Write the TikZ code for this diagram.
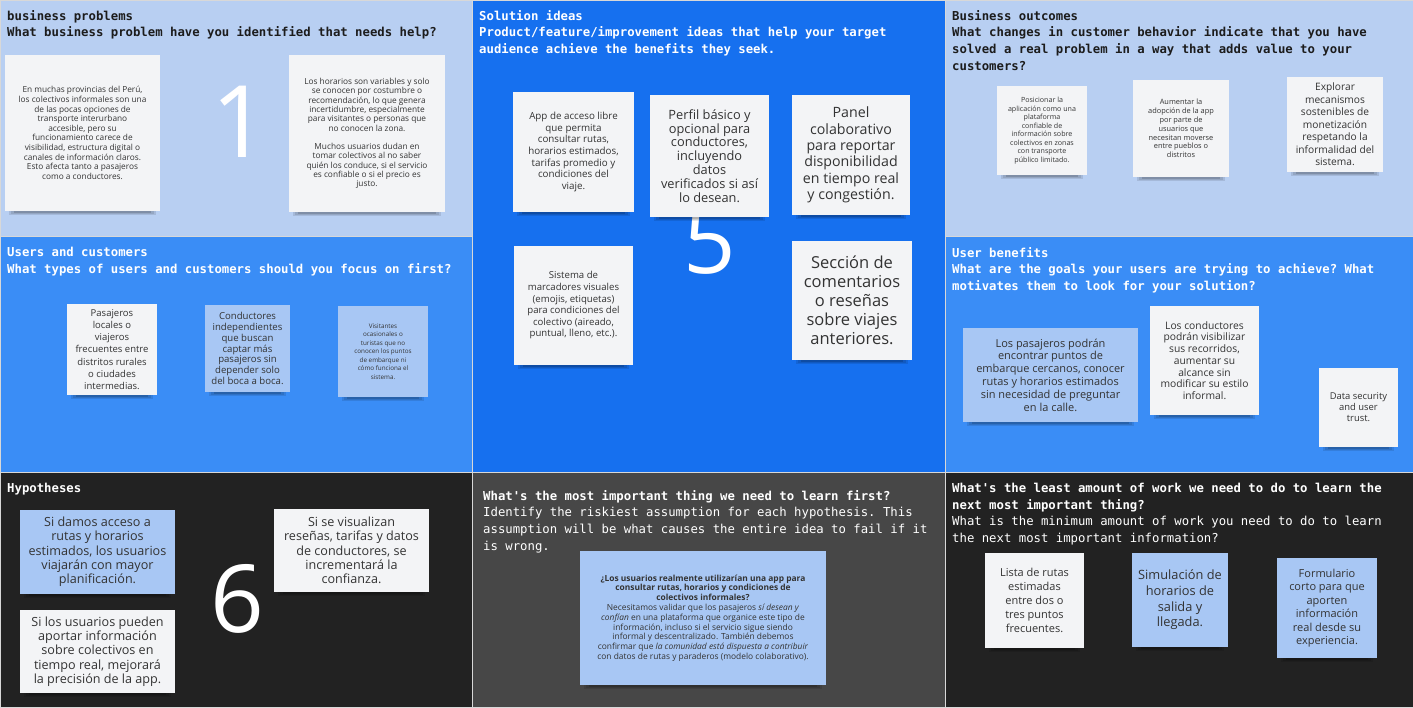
\documentclass[tikz,border=0pt]{standalone}
\usepackage{fontspec}
\setmainfont{Open Sans}
\setmonofont{DejaVu Sans Mono}
\definecolor{lightbg}{HTML}{B8CFF2}
\definecolor{solbg}{HTML}{1670EF}
\definecolor{midbg}{HTML}{3A8DF6}
\definecolor{darkbg}{HTML}{222222}
\definecolor{graybg}{HTML}{474747}
\definecolor{stw}{HTML}{F3F4F6}
\definecolor{stb}{HTML}{A8C7F4}
\definecolor{stext}{HTML}{333333}
\definecolor{hdark}{HTML}{1C1C1C}
\definecolor{panelline}{HTML}{D8D8D8}
\tikzset{
  panel/.style={draw=panelline, line width=0.8pt},
  hdr/.style={anchor=north west, inner sep=0pt, align=left, font=\ttfamily\bfseries\fontsize{12.3}{16.6}\selectfont},
  bignum/.style={anchor=base, inner sep=0pt, text=white, font=\fontsize{100}{100}\selectfont},
  sticky/.style={inner sep=0pt, align=center, text=stext},
}
% name, x1, y1, x2, y2, fill, fontsize, baselineskip, text
\newcommand\stk[9]{%
  \fill[black,opacity=0.10] (#2+4,#5-3) rectangle (#4-4,#5+4);
  \fill[black,opacity=0.10] (#2+6,#5-3) rectangle (#4-6,#5+2.5);
  \fill[black,opacity=0.14] (#2+9,#5-3) rectangle (#4-9,#5+1.5);
  \node[sticky,fill=#6,minimum width={#4-#2},minimum height={#5-#3},
        font=\fontsize{#7}{#8}\selectfont] (#1) at ({(#2+#4)/2},{(#3+#5)/2}) {#9};%
}
\begin{document}
\begin{tikzpicture}[x=1pt,y=-1pt]
\useasboundingbox (0,0) rectangle (1413,707);
% panels
\fill[lightbg] (0,0) rectangle (472,236);
\fill[solbg] (472,0) rectangle (945,472);
\fill[lightbg] (945,0) rectangle (1413,236);
\fill[midbg] (0,236) rectangle (472,472);
\fill[midbg] (945,236) rectangle (1413,472);
\fill[darkbg] (0,472) rectangle (472,707);
\fill[graybg] (472,472) rectangle (945,707);
\fill[darkbg] (945,472) rectangle (1413,707);
\draw[panel] (0,0) rectangle (472,236);
\draw[panel] (472,0) rectangle (945,472);
\draw[panel] (945,0) rectangle (1413,236);
\draw[panel] (0,236) rectangle (472,472);
\draw[panel] (945,236) rectangle (1413,472);
\draw[panel] (0,472) rectangle (472,707);
\draw[panel] (472,472) rectangle (945,707);
\draw[panel] (945,472) rectangle (1413,707);

% big numbers
\node[bignum] (n1) at (240,157) {1};
\node[bignum,font=\fontsize{92}{92}\selectfont] (n5) at (710,273) {5};
\node[bignum,font=\fontsize{94}{94}\selectfont] (n6) at (237,632) {6};

% headers
\node[hdr,text=hdark] (h1) at (7,10) {business problems\\What business problem have you identified that needs help?};
\node[hdr,text=white] (h2) at (479,10) {Solution ideas\\Product/feature/improvement ideas that help your target\\audience achieve the benefits they seek.};
\node[hdr,text=hdark] (h3) at (952,10) {Business outcomes\\What changes in customer behavior indicate that you have\\solved a real problem in a way that adds value to your\\customers?};
\node[hdr,text=white] (h4) at (7,247) {Users and customers\\What types of users and customers should you focus on first?};
\node[hdr,text=white] (h5) at (952,247) {User benefits\\What are the goals your users are trying to achieve? What\\motivates them to look for your solution?};
\node[hdr,text=white] (h6) at (7,483) {Hypotheses};
\node[hdr,text=white,font=\ttfamily\fontsize{12.3}{16.6}\selectfont] (h7) at (483,490) {\textbf{What's the most important thing we need to learn first?}\\Identify the riskiest assumption for each hypothesis. This\\assumption will be what causes the entire idea to fail if it\\is wrong.};
\node[hdr,text=white,font=\ttfamily\fontsize{12.3}{16.6}\selectfont] (h8) at (952,483) {\textbf{What's the least amount of work we need to do to learn the}\\\textbf{next most important thing?}\\What is the minimum amount of work you need to do to learn\\the next most important information?};

% top-left stickies
\stk{s1}{5}{55}{160}{211}{stw}{8.3}{9.6}{En muchas provincias del Perú,\\los colectivos informales son una\\de las pocas opciones de\\transporte interurbano\\accesible, pero su\\funcionamiento carece de\\visibilidad, estructura digital o\\canales de información claros.\\Esto afecta tanto a pasajeros\\como a conductores.}
\stk{s2}{289}{55}{445}{212}{stw}{8.3}{9.3}{Los horarios son variables y solo\\se conocen por costumbre o\\recomendación, lo que genera\\incertidumbre, especialmente\\para visitantes o personas que\\no conocen la zona.\\[9.3pt]Muchos usuarios dudan en\\tomar colectivos al no saber\\quién los conduce, si el servicio\\es confiable o si el precio es\\justo.}

% top-right stickies
\stk{t1}{997}{86}{1087}{175}{stw}{7.1}{8.5}{Posicionar la\\aplicación como una\\plataforma\\confiable de\\información sobre\\colectivos en zonas\\con transporte\\público limitado.}
\stk{t2}{1133}{80}{1229}{177}{stw}{7.4}{8.8}{Aumentar la\\adopción de la app\\por parte de\\usuarios que\\necesitan moverse\\entre pueblos o\\distritos}
\stk{t3}{1287}{77}{1383}{172}{stw}{10.2}{12.5}{Explorar\\mecanismos\\sostenibles de\\monetización\\respetando la\\informalidad del\\sistema.}

% middle-left stickies
\stk{m1}{67}{304}{157}{395}{stw}{9.5}{12.2}{Pasajeros\\locales o\\viajeros\\frecuentes entre\\distritos rurales\\o ciudades\\intermedias.}
\stk{m2}{205}{305}{290}{392}{stb}{9.6}{10.7}{Conductores\\independientes\\que buscan\\captar más\\pasajeros sin\\depender solo\\del boca a boca.}
\stk{m3}{338}{306}{428}{397}{stb}{6.3}{8.5}{Visitantes\\ocasionales o\\turistas que no\\conocen los puntos\\de embarque ni\\cómo funciona el\\sistema.}

% center stickies
\stk{c1}{513}{92}{634}{212}{stw}{9.8}{11.7}{App de acceso libre\\que permita\\consultar rutas,\\horarios estimados,\\tarifas promedio y\\condiciones del\\viaje.}
\stk{c2}{650}{95}{769}{217}{stw}{12.8}{13.9}{Perfil básico y\\opcional para\\conductores,\\incluyendo\\datos\\verificados si así\\lo desean.}
\stk{c3}{792}{95}{910}{215}{stw}{14.2}{16.3}{Panel\\colaborativo\\para reportar\\disponibilidad\\en tiempo real\\y congestión.}
\stk{c4}{514}{246}{633}{365}{stw}{9.6}{11.6}{Sistema de\\marcadores visuales\\(emojis, etiquetas)\\para condiciones del\\colectivo (aireado,\\puntual, lleno, etc.).}
\stk{c5}{792}{241}{912}{360}{stw}{16.5}{19}{Sección de\\comentarios\\o reseñas\\sobre viajes\\anteriores.}

% middle-right stickies
\stk{r1}{963}{328}{1138}{422}{stb}{11}{12.8}{Los pasajeros podrán\\encontrar puntos de\\embarque cercanos, conocer\\rutas y horarios estimados\\sin necesidad de preguntar\\en la calle.}
\stk{r2}{1150}{306}{1259}{415}{stw}{10.3}{11.7}{Los conductores\\podrán visibilizar\\sus recorridos,\\aumentar su\\alcance sin\\modificar su estilo\\informal.}
\stk{r3}{1319}{368}{1398}{447}{stw}{9.4}{11}{Data security\\and user\\trust.}

% bottom-left stickies
\stk{b1}{20}{510}{175}{594}{stb}{12.6}{14.3}{Si damos acceso a\\rutas y horarios\\estimados, los usuarios\\viajarán con mayor\\planificación.}
\stk{b2}{274}{509}{429}{592}{stw}{12.6}{14.3}{Si se visualizan\\reseñas, tarifas y datos\\de conductores, se\\incrementará la\\confianza.}
\stk{b3}{20}{610}{175}{693}{stw}{12.6}{14.3}{Si los usuarios pueden\\aportar información\\sobre colectivos en\\tiempo real, mejorará\\la precisión de la app.}

% bottom-center sticky
\stk{q1}{580}{551}{826}{685}{stb}{8.4}{9.8}{\textbf{¿Los usuarios realmente utilizarían una app para}\\\textbf{consultar rutas, horarios y condiciones de}\\\textbf{colectivos informales?}\\Necesitamos validar que los pasajeros \textit{sí desean y}\\\textit{confían} en una plataforma que organice este tipo de\\información, incluso si el servicio sigue siendo\\informal y descentralizado. También debemos\\confirmar que \textit{la comunidad está dispuesta a contribuir}\\con datos de rutas y paraderos (modelo colaborativo).}

% bottom-right stickies
\stk{w1}{985}{553}{1084}{648}{stw}{11}{14}{Lista de rutas\\estimadas\\entre dos o\\tres puntos\\frecuentes.}
\stk{w2}{1132}{553}{1228}{647}{stb}{12.8}{15.7}{Simulación de\\horarios de\\salida y\\llegada.}
\stk{w3}{1277}{558}{1377}{658}{stb}{11}{13.5}{Formulario\\corto para que\\aporten\\información\\real desde su\\experiencia.}
\end{tikzpicture}
\end{document}
